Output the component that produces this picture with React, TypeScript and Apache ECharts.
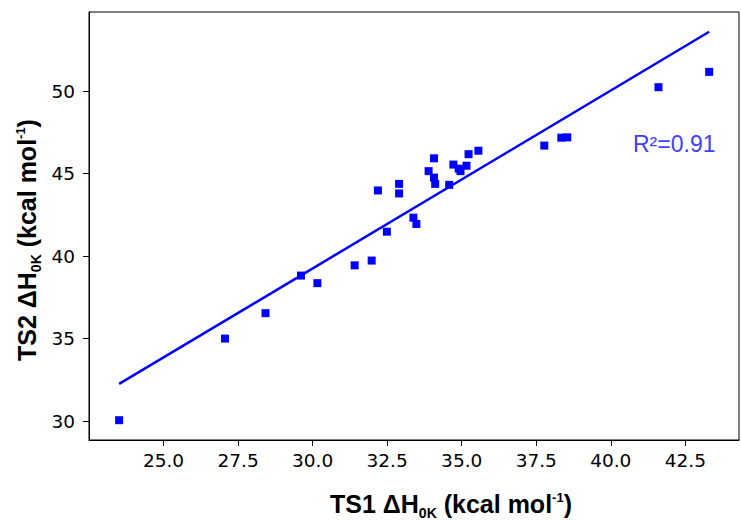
import React, { useEffect, useRef } from "react";
import * as echarts from "echarts";

const ts1: number[] = [23.51, 27.06, 28.42, 29.61, 30.16, 31.41, 31.98, 32.19, 32.49, 32.90, 32.90, 33.38, 33.48, 33.89, 34.07, 34.07, 34.11, 34.58, 34.72, 34.90, 34.96, 35.16, 35.23, 35.56, 37.77, 38.34, 38.54, 41.60, 43.30];
const ts2: number[] = [30.05, 35.0, 36.54, 38.82, 38.36, 39.44, 39.73, 43.98, 41.48, 44.38, 43.80, 42.33, 41.95, 45.15, 45.93, 44.76, 44.38, 44.32, 45.55, 45.30, 45.15, 45.48, 46.18, 46.39, 46.70, 47.18, 47.20, 50.24, 51.17];
const fitX: number[] = [23.51, 43.30];
const fitY: number[] = [32.25, 53.6];
const xTicks: number[] = [25.0, 27.5, 30.0, 32.5, 35.0, 37.5, 40.0, 42.5];
const yTicks: number[] = [30, 35, 40, 45, 50];
const r2Label = "R²=0.91";

export default function App() {
  const ref = useRef<HTMLDivElement>(null);
  useEffect(() => {
    if (!ref.current) return;
    const chart = echarts.init(ref.current, null, { renderer: "svg" });
    const titleFont = "Liberation Sans, Arial, sans-serif";
    const rich = {
      b: { fontFamily: titleFont, fontWeight: "bold", fontSize: 25, color: "#000", lineHeight: 30 },
      sub: { fontFamily: titleFont, fontWeight: "bold", fontSize: 14, color: "#000", lineHeight: 30, padding: [17, 0, 0, 0] },
      sup: { fontFamily: titleFont, fontWeight: "bold", fontSize: 13, color: "#000", lineHeight: 30, padding: [0, 0, 14, 0] },
    };
    const tickFont = { fontFamily: "DejaVu Sans", fontSize: 18.5, color: "#000" };
    chart.setOption({
      animation: false,
      grid: { left: 89, top: 12, right: 2, bottom: 82, show: true, borderColor: "#000", borderWidth: 1, backgroundColor: "transparent" },
      xAxis: {
        type: "value",
        min: 22.5,
        max: 44.3,
        axisLine: { show: true, lineStyle: { color: "#000", width: 1 } },
        axisTick: { show: true, length: 6, lineStyle: { color: "#000" }, customValues: xTicks },
        axisLabel: { ...tickFont, margin: 11, customValues: xTicks, formatter: (v: number) => v.toFixed(1) },
        splitLine: { show: false },
      },
      yAxis: {
        type: "value",
        min: 28.85,
        max: 54.8,
        axisLine: { show: true, lineStyle: { color: "#000", width: 1 } },
        axisTick: { show: true, length: 6, lineStyle: { color: "#000" }, customValues: yTicks },
        axisLabel: { ...tickFont, margin: 14, customValues: yTicks, formatter: (v: number) => String(v) },
        splitLine: { show: false },
      },
      series: [
        {
          type: "line",
          data: fitX.map((x, i) => [x, fitY[i]]),
          symbol: "none",
          lineStyle: { color: "#0000ff", width: 2.5 },
          z: 2,
        },
        {
          type: "scatter",
          data: ts1.map((x, i) => [x, ts2[i]]),
          symbol: "rect",
          symbolSize: 8,
          itemStyle: { color: "#0000ff", opacity: 1 },
          z: 3,
        },
      ],
      graphic: [
        {
          type: "text",
          x: 633,
          y: 144,
          style: { text: r2Label, fontFamily: titleFont, fontSize: 23, fill: "#4040ff", align: "left", verticalAlign: "middle" },
        },
        {
          type: "text",
          x: 451,
          y: 504,
          style: {
            text: "{b|TS1 ΔH}{sub|0K}{b| (kcal mol}{sup|-1}{b|)}",
            rich,
            align: "center",
            verticalAlign: "middle",
          },
        },
        {
          type: "text",
          x: 27,
          y: 240,
          rotation: Math.PI / 2,
          style: {
            text: "{b|TS2 ΔH}{sub|0K}{b| (kcal mol}{sup|-1}{b|)}",
            rich,
            align: "center",
            verticalAlign: "middle",
          },
        },
      ],
    });
    return () => chart.dispose();
  }, []);
  return <div ref={ref} style={{ width: 741, height: 522, position: "absolute", left: 0, top: 0 }} />;
}
